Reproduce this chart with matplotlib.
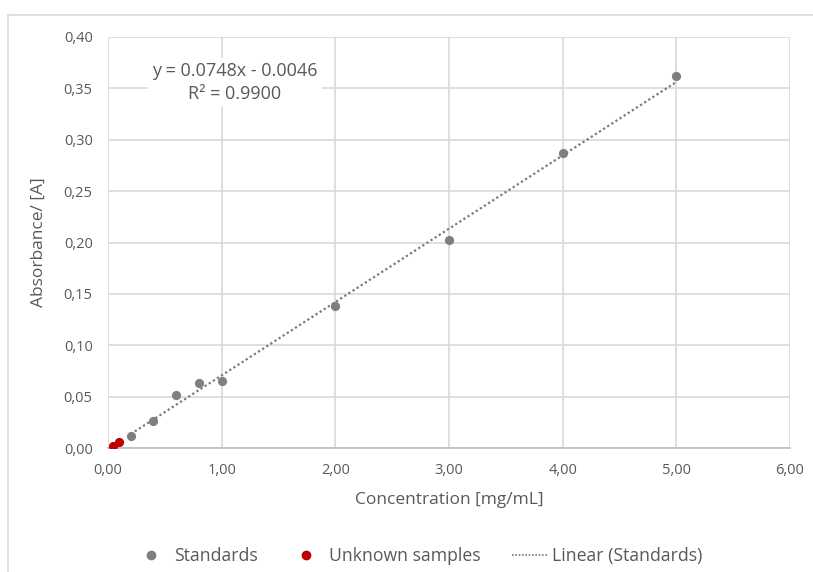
import numpy as np
import matplotlib
matplotlib.use("Agg")
import matplotlib.pyplot as plt
from matplotlib.patches import Rectangle
from matplotlib.ticker import FuncFormatter, MultipleLocator
from matplotlib.lines import Line2D

std_x = [0.2, 0.4, 0.6, 0.8, 1.0, 2.0, 3.0, 4.0, 5.0]
std_y = [0.012, 0.026, 0.052, 0.063, 0.065, 0.138, 0.202, 0.287, 0.362]
unk_x = [0.047, 0.099]
unk_y = [0.002, 0.006]
equation_text = "y = 0.0748x - 0.0046\nR² = 0.9900"

plt.rcParams['font.family'] = ['Open Sans', 'DejaVu Sans']
txt = '#595959'
grid_c = '#d9d9d9'

fig = plt.figure(figsize=(8.13, 5.72), dpi=100)
fig.patches.append(Rectangle((8/813, -0.1), 1.1, 1 - 15/572 + 0.1, transform=fig.transFigure,
                             fill=False, edgecolor=grid_c, linewidth=1.2))
ax = fig.add_axes([108/813, 1 - 448/572, (790-108)/813, (448-37)/572])

ax.set_xlim(0, 6)
ax.set_ylim(0, 0.4)
ax.xaxis.set_major_locator(MultipleLocator(1))
ax.yaxis.set_major_locator(MultipleLocator(0.05))
fmt = FuncFormatter(lambda v, p: f"{v:.2f}".replace('.', ','))
ax.xaxis.set_major_formatter(fmt)
ax.yaxis.set_major_formatter(fmt)
ax.grid(True, color=grid_c, linewidth=1.2)
ax.set_axisbelow(True)
for s in ['top', 'right', 'left']:
    ax.spines[s].set_visible(False)
ax.spines['bottom'].set_color('#bfbfbf')
ax.spines['bottom'].set_linewidth(1.2)
ax.tick_params(length=0, labelsize=10.5, labelcolor=txt)
ax.tick_params(axis='y', pad=11)
ax.tick_params(axis='x', pad=11)

coef = np.polyfit(std_x, std_y, 1)
lx = np.array([min(std_x), max(std_x)])
ax.plot(lx, np.polyval(coef, lx), linestyle=(0, (1, 1.2)), color='#6f7b8b', linewidth=1.6, zorder=2)
ax.scatter(std_x, std_y, s=44, color='#7f7f7f', zorder=3, linewidths=0)
ax.scatter(unk_x, unk_y, s=44, color='#c00000', zorder=3, linewidths=0)

ax.text(1.117, 0.3557, equation_text, ha='center', va='center', fontsize=13, color=txt,
        linespacing=1.35, bbox=dict(facecolor='white', edgecolor='none', pad=3))

ax.set_xlabel("Concentration [mg/mL]", fontsize=12.5, color=txt, labelpad=10)
ax.set_ylabel("Absorbance/ [A]", fontsize=12.5, color=txt, labelpad=12)

handles = [
    Line2D([], [], marker='o', linestyle='none', color='#7f7f7f', markersize=6),
    Line2D([], [], marker='o', linestyle='none', color='#c00000', markersize=6),
    Line2D([], [], linestyle=(0, (1, 1)), color='#6f7b8b', linewidth=1.2),
]
fig.legend(handles, ["Standards", "Unknown samples", "Linear (Standards)"], ncol=3,
           loc='center', bbox_to_anchor=(0.514, 1 - 556/572), frameon=False,
           fontsize=12.7, labelcolor=txt, handlelength=2.0, columnspacing=1.75, handletextpad=0.3)

fig.savefig("out.png", dpi=100)
